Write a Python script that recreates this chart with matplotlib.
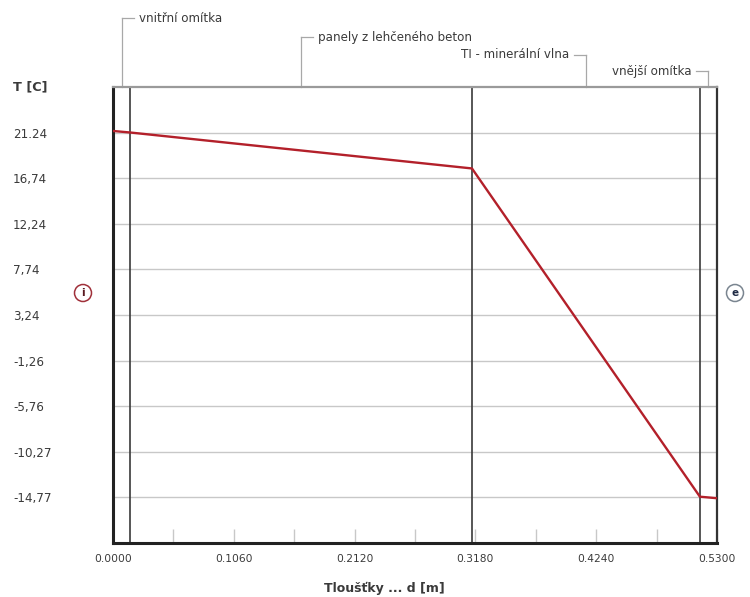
import matplotlib
matplotlib.use("Agg")
import matplotlib.pyplot as plt
from matplotlib.patches import Circle
import numpy as np

plt.rcParams['font.family'] = ['DejaVu Sans']

# Wall layers (interior -> exterior) and their thicknesses [m]
layer_names = ["vnitřní omítka", "panely z lehčeného beton",
               "TI - minerální vlna", "vnější omítka"]
layer_thickness = [0.015, 0.300, 0.200, 0.015]

# Temperature profile through the wall
depth = [0.0, 0.015, 0.315, 0.515, 0.530]
temperature = [21.40, 21.25, 17.70, -14.70, -14.85]

# Axis ticks
y_tick_values = [21.24, 16.74, 12.24, 7.74, 3.24, -1.26, -5.76, -10.27, -14.77]
y_tick_labels = ["21.24", "16,74", "12,24", "7,74", "3,24", "-1,26", "-5,76", "-10,27", "-14,77"]
x_tick_values = [0.0, 0.106, 0.212, 0.318, 0.424, 0.530]
x_tick_labels = ["0.0000", "0.1060", "0.2120", "0.3180", "0.4240", "0.5300"]
x_minor_values = [0.053, 0.159, 0.265, 0.371, 0.477]

y_min, y_max = -19.27, 25.74
x_min, x_max = 0.0, 0.53

W, H = 750, 597
fig = plt.figure(figsize=(W / 100, H / 100), dpi=100)
fig.patch.set_facecolor("white")

ax_l, ax_r, ax_t, ax_b = 113, 717, 87, 543
ax = fig.add_axes([ax_l / W, (H - ax_b) / H, (ax_r - ax_l) / W, (ax_b - ax_t) / H])
ax.set_xlim(x_min, x_max)
ax.set_ylim(y_min, y_max)

text_col = "#3a3a3a"
grid_col = "#c8c8c8"

# horizontal grid
for v in y_tick_values:
    ax.axhline(v, color=grid_col, lw=1.0, zorder=1)

# layer boundaries
bounds = np.cumsum(layer_thickness)
for b in bounds[:-1]:
    ax.axvline(b, color="#3a3a3a", lw=1.2, zorder=2)

# temperature line
ax.plot(depth, temperature, color="#b3202a", lw=1.7, zorder=3, solid_joinstyle="round")

# spines
ax.spines["left"].set_linewidth(2.2)
ax.spines["left"].set_color("#222222")
ax.spines["bottom"].set_linewidth(2.2)
ax.spines["bottom"].set_color("#222222")
ax.spines["right"].set_linewidth(1.6)
ax.spines["right"].set_color("#333333")
ax.spines["top"].set_linewidth(1.6)
ax.spines["top"].set_color("#9a9a9a")

# y ticks: labels only, left aligned at the figure edge
ax.set_yticks(y_tick_values)
ax.set_yticklabels(y_tick_labels, fontsize=8.6, color=text_col)
ax.tick_params(axis="y", length=0, pad=72)
for lab in ax.get_yticklabels():
    lab.set_horizontalalignment("left")

# x ticks: inward light ticks
ax.set_xticks(x_tick_values)
ax.set_xticklabels(x_tick_labels, fontsize=7.7, color=text_col)
ax.set_xticks(x_minor_values, minor=True)
ax.tick_params(axis="x", which="both", direction="in", length=10, width=1,
               color=grid_col, pad=8)

# axis titles
fig.text(13 / W, 1 - 87 / H, "T [C]", fontsize=9.2, fontweight="bold",
         color=text_col, ha="left", va="center")
fig.text(384 / W, 1 - 588 / H, "Tloušťky ... d [m]", fontsize=9,
         fontweight="bold", color=text_col, ha="center", va="center")

# layer labels with leaders
starts = np.concatenate([[0.0], bounds[:-1]])
mids = (starts + bounds) / 2
label_px_y = [18, 37, 55, 71]
side = ["right", "right", "left", "left"]
px_per_x = (ax_r - ax_l) / (x_max - x_min)
leader_col = "#a8a8a8"
for name, xm, py, sd in zip(layer_names, mids, label_px_y, side):
    yf = (ax_b - py) / (ax_b - ax_t)
    ax.plot([xm, xm], [1.0, yf], color=leader_col, lw=0.9,
            transform=ax.get_xaxis_transform(), clip_on=False)
    dx = 12 / px_per_x
    gap = 5 / px_per_x
    if sd == "right":
        ax.plot([xm, xm + dx], [yf, yf], color=leader_col, lw=0.9,
                transform=ax.get_xaxis_transform(), clip_on=False)
        ax.text(xm + dx + gap, yf, name, fontsize=8.6, color=text_col,
                ha="left", va="center", transform=ax.get_xaxis_transform())
    else:
        ax.plot([xm - dx, xm], [yf, yf], color=leader_col, lw=0.9,
                transform=ax.get_xaxis_transform(), clip_on=False)
        ax.text(xm - dx - gap, yf, name, fontsize=8.6, color=text_col,
                ha="right", va="center", transform=ax.get_xaxis_transform())

# interior / exterior markers
for cx, letter, ec, tc in [(83, "i", "#a0303a", "#5a1a20"),
                           (735, "e", "#7a8590", "#1f2a44")]:
    cy = H - 293
    circ = Circle((cx / 100, cy / 100), 0.085, transform=fig.dpi_scale_trans,
                  facecolor="white", edgecolor=ec, lw=1.1)
    fig.add_artist(circ)
    fig.text(cx / W, cy / H, letter, fontsize=7.5, fontweight="bold",
             color=tc, ha="center", va="center")

fig.savefig("out.png", dpi=100)
